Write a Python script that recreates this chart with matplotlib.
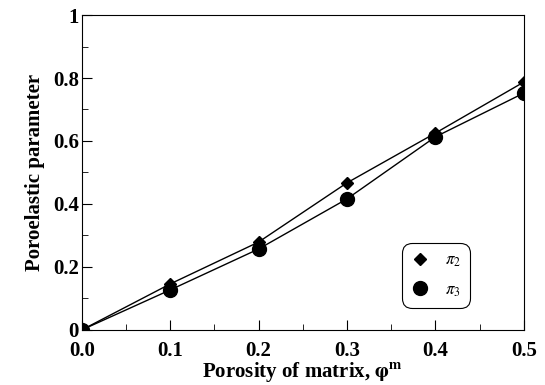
import numpy as np
import matplotlib.pyplot as plt
from matplotlib.ticker import MultipleLocator

# datos
porosidad = [0.0, 0.1, 0.2, 0.3, 0.4, 0.5]
pi2 = [0.0, 0.146, 0.279, 0.467, 0.625, 0.787]
pi3 = [0.0, 0.127, 0.257, 0.416, 0.613, 0.752]
xticks = [0.0, 0.1, 0.2, 0.3, 0.4, 0.5]
xlabels = ['0.0', '0.1', '0.2', '0.3', '0.4', '0.5']
yticks = [0.0, 0.2, 0.4, 0.6, 0.8, 1.0]
ylabels = ['0', '0.2', '0.4', '0.6', '0.8', '1']

plt.rcParams['font.family'] = ['Liberation Serif', 'DejaVu Serif']
plt.rcParams['mathtext.fontset'] = 'stix'

fig = plt.figure(figsize=(5.45, 3.85), dpi=100)
ax = fig.add_axes([0.150, 0.143, 0.811, 0.818])

ax.plot(porosidad, pi2, color='black', lw=1.0, marker='D', ms=6, label=r'$\pi_2$')
ax.plot(porosidad, pi3, color='black', lw=1.0, marker='o', ms=10, label=r'$\pi_3$')

ax.set_xlim(0, 0.5)
ax.set_ylim(0, 1)
ax.set_xticks(xticks)
ax.set_xticklabels(xlabels)
ax.set_yticks(yticks)
ax.set_yticklabels(ylabels)
ax.xaxis.set_minor_locator(MultipleLocator(0.05))
ax.yaxis.set_minor_locator(MultipleLocator(0.1))
ax.tick_params(which='both', direction='in', labelsize=15)
ax.tick_params(axis='x', pad=8)
ax.tick_params(axis='y', pad=2)
ax.tick_params(which='major', length=7)
ax.tick_params(which='minor', length=4)
for lab in ax.get_xticklabels() + ax.get_yticklabels():
    lab.set_fontweight('heavy')

ax.set_xlabel(r'Porosity of matrix, $\mathbf{\varphi^m}$', fontsize=15, fontweight='bold', labelpad=-1)
ax.set_ylabel('Poroelastic parameter', fontsize=15, fontweight='bold', labelpad=6)

leg = ax.legend(loc='lower right', bbox_to_anchor=(0.878, 0.07), fontsize=12,
                frameon=True, fancybox=True, edgecolor='black', framealpha=1,
                handlelength=1.0, handletextpad=1.0, labelspacing=0.8, borderpad=0.55,
                borderaxespad=0)
leg.get_frame().set_linewidth(0.8)
leg.get_frame().set_boxstyle('round', pad=0, rounding_size=0.6)
for h in leg.legend_handles:
    h.set_linestyle('none')

plt.savefig('out.png', dpi=100)
